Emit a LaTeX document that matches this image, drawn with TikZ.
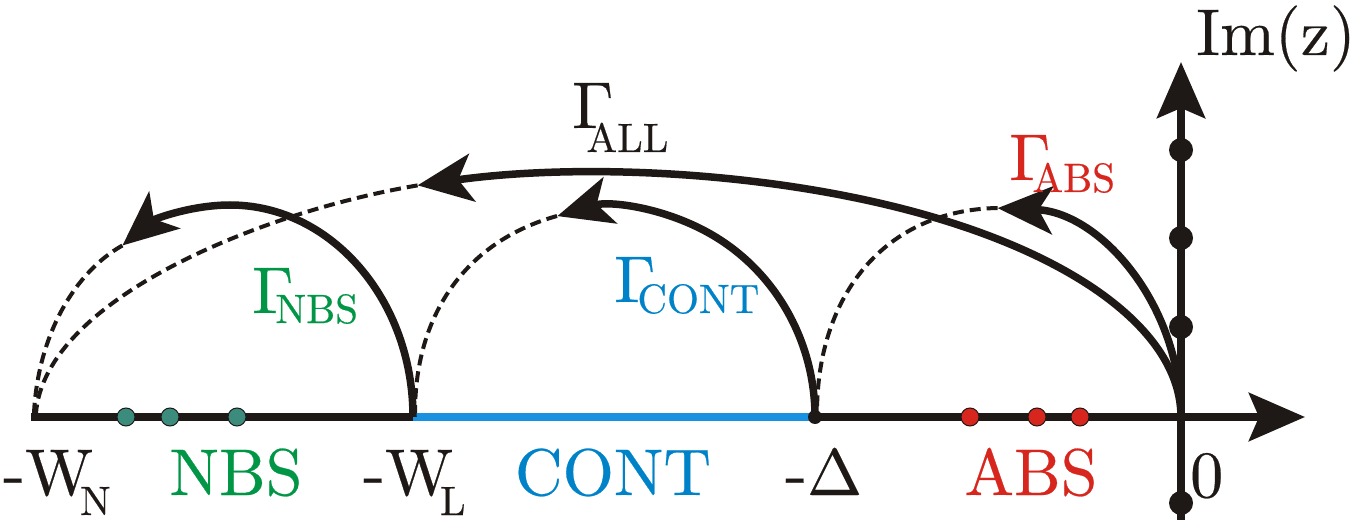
\documentclass[tikz,border=0pt]{standalone}
\usepackage{fontspec}
\newfontfamily\tnr{lmroman10-regular}[Extension=.otf, FakeBold=0.4]
\usetikzlibrary{arrows.meta}
\definecolor{cgreen}{RGB}{0,150,70}
\definecolor{cblue}{RGB}{0,130,200}
\definecolor{cline}{RGB}{25,145,225}
\definecolor{cred}{RGB}{215,38,30}
\definecolor{cteal}{RGB}{60,140,125}
\definecolor{ink}{RGB}{30,25,22}
\newcommand\bigtxt{\tnr\fontsize{66}{66}\selectfont}
\newcommand\subtxt{\tnr\fontsize{41}{41}\selectfont}
\begin{document}
\begin{tikzpicture}[x=1pt,y=-1pt,
  axisline/.style={line width=8pt, draw=ink},
  axisarrow/.style={-{Stealth[length=56pt,width=48pt,inset=10pt]}},
  solidarc/.style={line width=7.5pt, draw=ink, -{Stealth[length=55pt,width=48pt,inset=14pt]}},
  dasharc/.style={line width=4pt, draw=ink, dash pattern=on 11pt off 6pt},
  lbl/.style={inner sep=0pt, anchor=base, font=\bigtxt},
  glbl/.style={inner sep=0pt, anchor=base west, font=\bigtxt},
  imdot/.style={fill=ink, draw=none},
  nbsdot/.style={fill=cteal, draw=ink, line width=1pt},
  absdot/.style={fill=cred, draw=ink, line width=1pt}
]
\useasboundingbox (0,0) rectangle (1359,521);
% key points
\coordinate (WN) at (31,417);
\coordinate (WL) at (413,417);
\coordinate (D) at (815,417);
\coordinate (O) at (1181,417);
\coordinate (Xend) at (1305,417);
\coordinate (Ybot) at (1181,520);
\coordinate (Yend) at (1181,62);
\coordinate (tNBS) at (122.4,245.5);
\coordinate (tCONT) at (557,216);
\coordinate (tALL) at (417.6,185.4);
\coordinate (tABS) at (997.6,208);
\coordinate (eNBS) at (34,413);
\coordinate (eALL) at (36,413);
\coordinate (eCONT) at (415,413);
\coordinate (eABS) at (817,413);

% dashed continuations
\draw[dasharc] (tNBS) .. controls (75,272) and (38,335) .. (eNBS);
\draw[dasharc] (tALL) .. controls (260,212) and (45,300) .. (eALL);
\draw[dasharc] (tCONT) .. controls (470,240) and (415,310) .. (eCONT);
\draw[dasharc] (tABS) .. controls (885,210) and (817,295) .. (eABS);

% axes
\draw[axisline, axisarrow] (WN) -- (Xend);
\draw[line width=8pt, draw=cline] (WL) -- (D);
\draw[axisline, axisarrow] (Ybot) -- (Yend);

% solid contours
\draw[solidarc] (WL) arc[start angle=0, end angle=126, x radius=183pt, y radius=212pt];
\draw[solidarc] (D) arc[start angle=0, end angle=106, x radius=202pt, y radius=209pt];
\draw[solidarc] (O) arc[start angle=0, end angle=108.3, x radius=581pt, y radius=244pt];
\draw[solidarc] (O) arc[start angle=0, end angle=88, x radius=190pt, y radius=209pt];

% dots
\fill[ink] (D) circle[radius=7pt];
\foreach \yy in {150,238,327,503} \path[imdot] (1181,\yy) circle[radius=12pt];
\foreach \xx in {126,170,237} \path[nbsdot] (\xx,417) circle[radius=9pt];
\foreach \xx in {970,1037,1080} \path[absdot] (\xx,417) circle[radius=9pt];

% contour labels
\node[glbl, text=cgreen] (gnbs) at (252,313) {Γ\kern-18pt\raisebox{-10pt}{\subtxt NBS}};
\node[glbl, text=cblue] (gcont) at (614,302) {Γ\kern-18pt\raisebox{-11pt}{\subtxt CONT}};
\node[glbl, text=cred] (gabs) at (1009,180) {Γ\kern-18pt\raisebox{-12pt}{\subtxt ABS}};
\node[glbl, text=ink] (gall) at (572,128) {Γ\kern-27pt\raisebox{-24pt}{\subtxt ALL}};

% axis labels
\node[glbl, text=ink] (wn) at (3,495) {-W\kern-13pt\raisebox{-20pt}{\subtxt N}};
\node[lbl, text=cgreen] (nbs) at (236,495) {NBS};
\node[glbl, text=ink] (wl) at (363,495) {-W\kern-13pt\raisebox{-20pt}{\subtxt L}};
\node[lbl, text=cblue] (cont) at (613,495) {CONT};
\node[glbl, text=ink] (dl) at (785,495) {-Δ};
\node[lbl, text=cred] (abs) at (1031,495) {ABS};
\node[glbl, text=ink] (zero) at (1190,497) {0};
\node[glbl, text=ink] (imz) at (1196,55) {Im(z)};
\end{tikzpicture}
\end{document}
